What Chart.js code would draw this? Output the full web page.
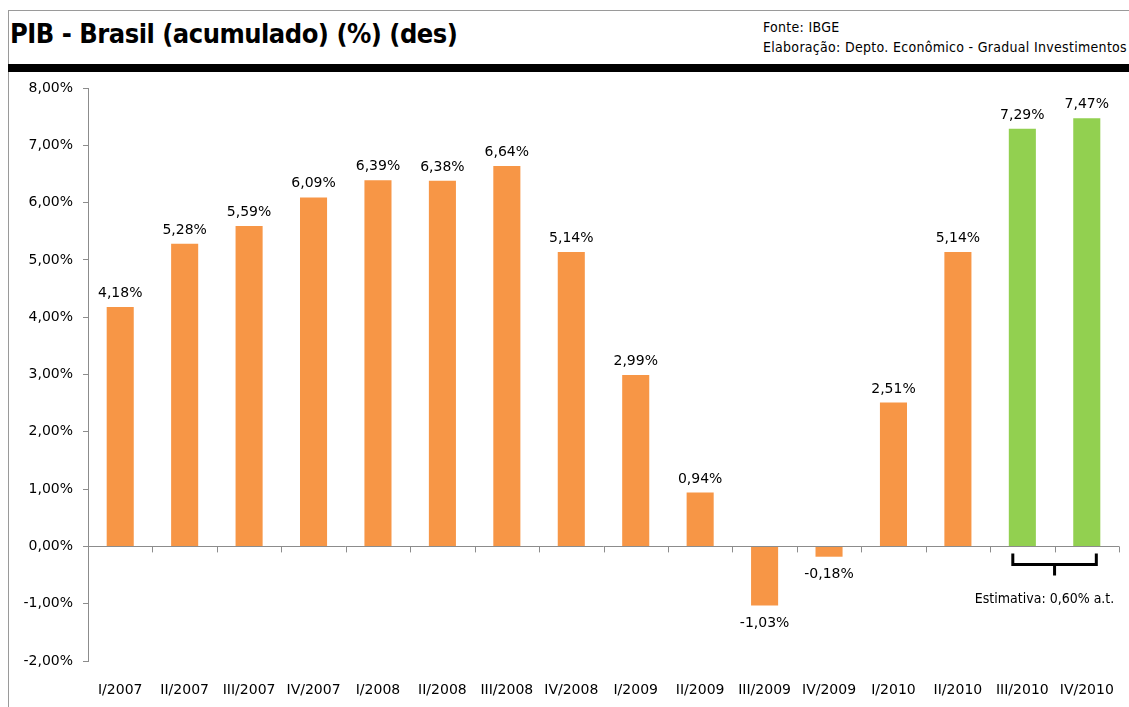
<!DOCTYPE html>
<html>
<head>
<meta charset="utf-8">
<script src="https://cdn.jsdelivr.net/npm/chart.js@4.4.1/dist/chart.umd.min.js"></script>
<style>
  html, body { margin: 0; padding: 0; background: #fff; }
  #wrap { position: relative; width: 1129px; height: 707px; overflow: hidden; }
  #frame { position: absolute; left: 8px; top: 10px; width: 1200px; height: 800px; border-left: 1px solid #9a9a9a; border-top: 1px solid #9a9a9a; }
  #title { position: absolute; left: 10px; top: 18px; font-family: "DejaVu Sans Condensed", "DejaVu Sans", sans-serif; font-weight: bold; font-size: 27px; color: #000; white-space: nowrap; letter-spacing: -0.5px; }
  #src { position: absolute; left: 763px; top: 17px; font-family: "DejaVu Sans Condensed", "DejaVu Sans", sans-serif; font-size: 14px; line-height: 20px; color: #000; white-space: nowrap; letter-spacing: 0.3px; }
  #bar { position: absolute; left: 8px; top: 64px; width: 1121px; height: 8px; background: #000; }
  #c { position: absolute; left: 0; top: 0; }
</style>
</head>
<body>
<div id="wrap">
  <div id="frame"></div>
  <div id="title">PIB - Brasil (acumulado) (%) (des)</div>
  <div id="src">Fonte: IBGE<br>Elaboração: Depto. Econômico - Gradual Investimentos</div>
  <div id="bar"></div>
  <canvas id="c" width="1129" height="707"></canvas>
</div>
<script>
const quarters = ['I/2007', 'II/2007', 'III/2007', 'IV/2007', 'I/2008', 'II/2008', 'III/2008', 'IV/2008',
                  'I/2009', 'II/2009', 'III/2009', 'IV/2009', 'I/2010', 'II/2010', 'III/2010', 'IV/2010'];
const pib = [4.18, 5.28, 5.59, 6.09, 6.39, 6.38, 6.64, 5.14, 2.99, 0.94, -1.03, -0.18, 2.51, 5.14, 7.29, 7.47];
const estimated = [false, false, false, false, false, false, false, false, false, false, false, false, false, false, true, true];
const yTicks = [-2, -1, 0, 1, 2, 3, 4, 5, 6, 7, 8];
const noteText = 'Estimativa: 0,60% a.t.';

const FONT = '"DejaVu Sans", sans-serif';
const fmt = v => v.toFixed(2).replace('.', ',') + '%';

const annotate = {
  id: 'annotate',
  afterDatasetsDraw(chart) {
    const { ctx, scales: { x, y } } = chart;
    const meta = chart.getDatasetMeta(0);
    const y0 = y.getPixelForValue(0);
    ctx.save();
    // zero line and category tick marks
    ctx.strokeStyle = '#8c8c8c';
    ctx.lineWidth = 1;
    ctx.beginPath();
    ctx.moveTo(x.left, Math.round(y0) + 0.5);
    ctx.lineTo(x.right, Math.round(y0) + 0.5);
    const step = (x.right - x.left) / quarters.length;
    for (let i = 1; i <= quarters.length; i++) {
      const px = Math.round(x.left + step * i) + 0.5;
      ctx.moveTo(px, y0);
      ctx.lineTo(px, y0 + 6);
    }
    ctx.stroke();

    // value labels
    ctx.fillStyle = '#000';
    ctx.font = '14px ' + FONT;
    ctx.textAlign = 'center';
    meta.data.forEach((bar, i) => {
      const v = pib[i];
      if (v >= 0) {
        ctx.textBaseline = 'alphabetic';
        ctx.fillText(fmt(v), bar.x, bar.y - 10);
      } else {
        ctx.textBaseline = 'top';
        ctx.fillText(fmt(v), bar.x, bar.y + 11);
      }
    });

    // bracket under the estimates
    const idx = estimated.map((e, i) => e ? i : -1).filter(i => i >= 0);
    const a = meta.data[idx[0]], b = meta.data[idx[idx.length - 1]];
    const lx = a.x - a.width / 2 + 4, rx = b.x + b.width / 2 - 4, mx = (lx + rx) / 2;
    const top = y0 + 7, mid = y0 + 18;
    ctx.strokeStyle = '#000';
    ctx.lineWidth = 3;
    ctx.beginPath();
    ctx.moveTo(lx, top);
    ctx.lineTo(lx, mid);
    ctx.lineTo(rx, mid);
    ctx.lineTo(rx, top);
    ctx.moveTo(mx, mid);
    ctx.lineTo(mx, mid + 11);
    ctx.stroke();
    ctx.font = '14px "DejaVu Sans Condensed", "DejaVu Sans", sans-serif';
    ctx.textBaseline = 'middle';
    ctx.fillText(noteText, mx - 10, y0 + 53);
    ctx.restore();
  }
};

new Chart(document.getElementById('c').getContext('2d'), {
  type: 'bar',
  data: {
    labels: quarters,
    datasets: [{
      data: pib,
      backgroundColor: estimated.map(e => e ? '#92D050' : '#F79646'),
      barPercentage: 0.42,
      categoryPercentage: 1
    }]
  },
  options: {
    responsive: false,
    animation: false,
    layout: { padding: { top: 88, right: 10, left: 0, bottom: 0 } },
    plugins: { legend: { display: false }, tooltip: { enabled: false } },
    scales: {
      x: {
        grid: { display: false },
        border: { display: false },
        ticks: { color: '#000', font: { family: FONT, size: 14 }, maxRotation: 0, autoSkip: false, padding: 13 },
        afterFit: s => { s.height = 46; }
      },
      y: {
        min: -2, max: 8,
        afterBuildTicks: s => { s.ticks = yTicks.map(v => ({ value: v })); },
        grid: { drawOnChartArea: false, drawTicks: true, tickLength: 5, color: '#8c8c8c' },
        border: { display: true, color: '#8c8c8c' },
        ticks: { color: '#000', font: { family: FONT, size: 14 }, padding: 10, callback: v => fmt(v) },
        afterFit: s => { s.width = 88; }
      }
    }
  },
  plugins: [annotate]
});
</script>
</body>
</html>
